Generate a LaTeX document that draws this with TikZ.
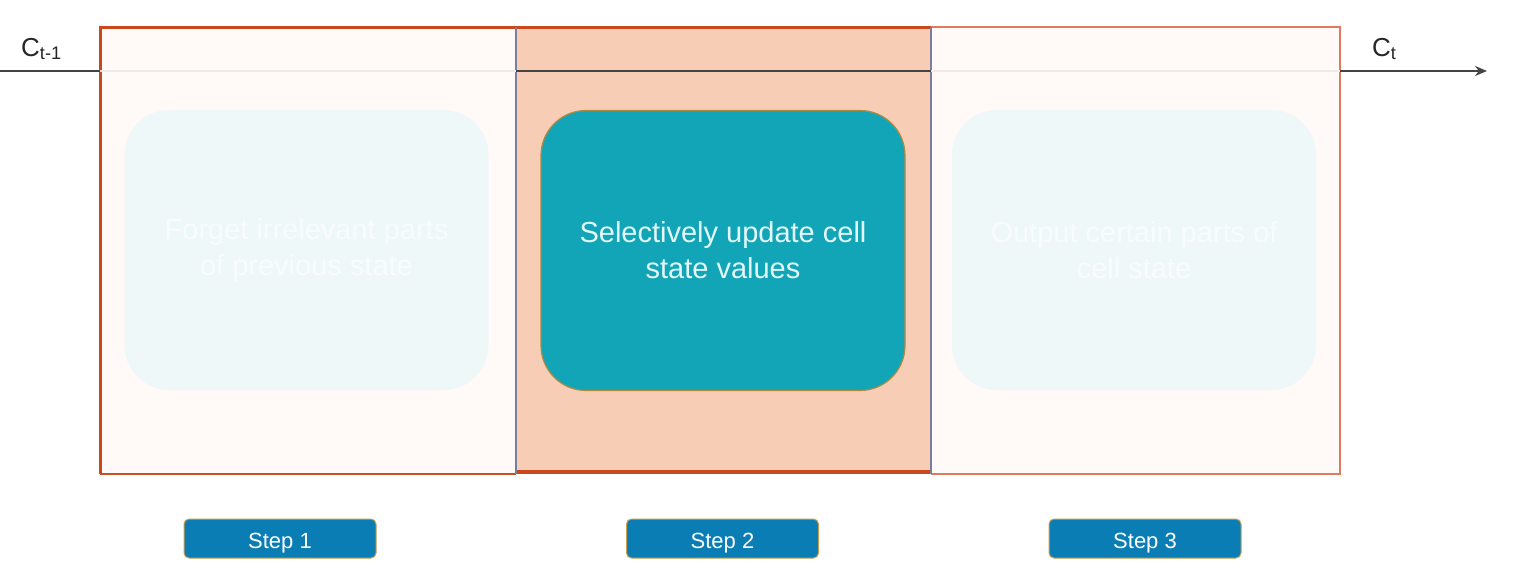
\documentclass[tikz,border=0pt]{standalone}
\usepackage{fontspec}
\setmainfont{Liberation Sans}
\usetikzlibrary{arrows.meta}
\definecolor{pinkbg}{HTML}{FFF9F7}
\definecolor{peach}{HTML}{F7CDB5}
\definecolor{darkorange}{HTML}{C9481C}
\definecolor{lightorange}{HTML}{E07A5F}
\definecolor{grayblue}{HTML}{7A7E9C}
\definecolor{ghost}{HTML}{EEF8F9}
\definecolor{tealbox}{HTML}{12A5B8}
\definecolor{tealtext}{HTML}{E2F8FA}
\definecolor{olive}{HTML}{B08A40}
\definecolor{stepblue}{HTML}{0A7DB5}
\definecolor{gold}{HTML}{C8A050}
\definecolor{lineclr}{HTML}{444444}
\definecolor{faint}{HTML}{F0EBE8}
\tikzset{
  panel/.style={minimum width=415pt, minimum height=447pt, inner sep=0pt, outer sep=0pt},
  taskbox/.style={rounded corners=45pt, minimum width=364pt, minimum height=280pt, inner sep=0pt, align=center, font=\fontsize{29}{36}\selectfont},
  ghostbox/.style={taskbox, fill=ghost, text=white!60!ghost},
  stepbox/.style={rounded corners=5pt, fill=stepblue, draw=gold, line width=1pt, minimum width=192pt, minimum height=39pt, inner sep=0pt, text=white, text height=19pt, text depth=0pt, font=\fontsize{22}{26}\selectfont},
  cell/.style={line width=2.8pt, draw=lineclr},
  clabel/.style={font=\fontsize{26}{30}\selectfont, text=black!85, inner sep=0pt},
}
\begin{document}
\begin{tikzpicture}[x=1pt,y=-1pt]
\useasboundingbox (0,0) rectangle (1515,562);
\fill[white] (0,0) rectangle (1515,562);
% panels
\node[panel, fill=pinkbg, minimum width=416pt] (p1) at (308,250.5) {};
\node[panel, fill=peach] (p2) at (723.5,250.5) {};
\node[panel, fill=pinkbg, minimum width=409pt] (p3) at (1135.5,250.5) {};
% borders
\draw[lightorange, line width=2pt] (p3.north west) -- (p3.north east) -- (p3.south east) -- (p3.south west);
\draw[darkorange!80!brown, line width=1.2pt] (p1.south west) -- (p1.south east);
\draw[darkorange, line width=3pt] (p1.south west) -- (p1.north west) -- (p1.north east) -- (p2.north east);
\draw[darkorange, line width=4pt] ([yshift=2pt]p2.south west) -- ([yshift=2pt]p2.south east);
\draw[grayblue, line width=2pt] (p2.north west) -- (p2.south west);
\draw[grayblue, line width=2pt] (p2.north east) -- (p2.south east);
% cell state line
\coordinate (cin) at (0,71);
\coordinate (cout) at (1487,71);
\coordinate (a1) at (100,71);
\coordinate (a2) at (516,71);
\coordinate (a3) at (931,71);
\coordinate (a4) at (1340,71);
\draw[cell] (cin) -- (a1);
\draw[faint, line width=2pt] (a1) -- (a2);
\draw[cell] (a2) -- (a3);
\draw[faint, line width=2pt] (a3) -- (a4);
\draw[cell, -{Stealth[length=12pt,width=10pt]}] (a4) -- (cout);
\node[clabel, anchor=base west] (lin) at (21,56) {C\textsubscript{t-1}};
\node[clabel, anchor=base west] (lout) at (1372,56) {C\textsubscript{t}};
% task boxes
\node[ghostbox] (t1) at (306.5,250) {Forget irrelevant parts\\of previous state};
\node[taskbox, fill=tealbox, draw=olive, line width=1.2pt, text=tealtext] (t2) at (723,250.5) {Selectively update cell\\state values};
\node[ghostbox] (t3) at (1134,250) {Output certain parts of\\cell state};
% steps
\node[stepbox] (s1) at (280,538.5) {Step 1};
\node[stepbox] (s2) at (722.5,538.5) {Step 2};
\node[stepbox] (s3) at (1145,538.5) {Step 3};
\end{tikzpicture}
\end{document}
